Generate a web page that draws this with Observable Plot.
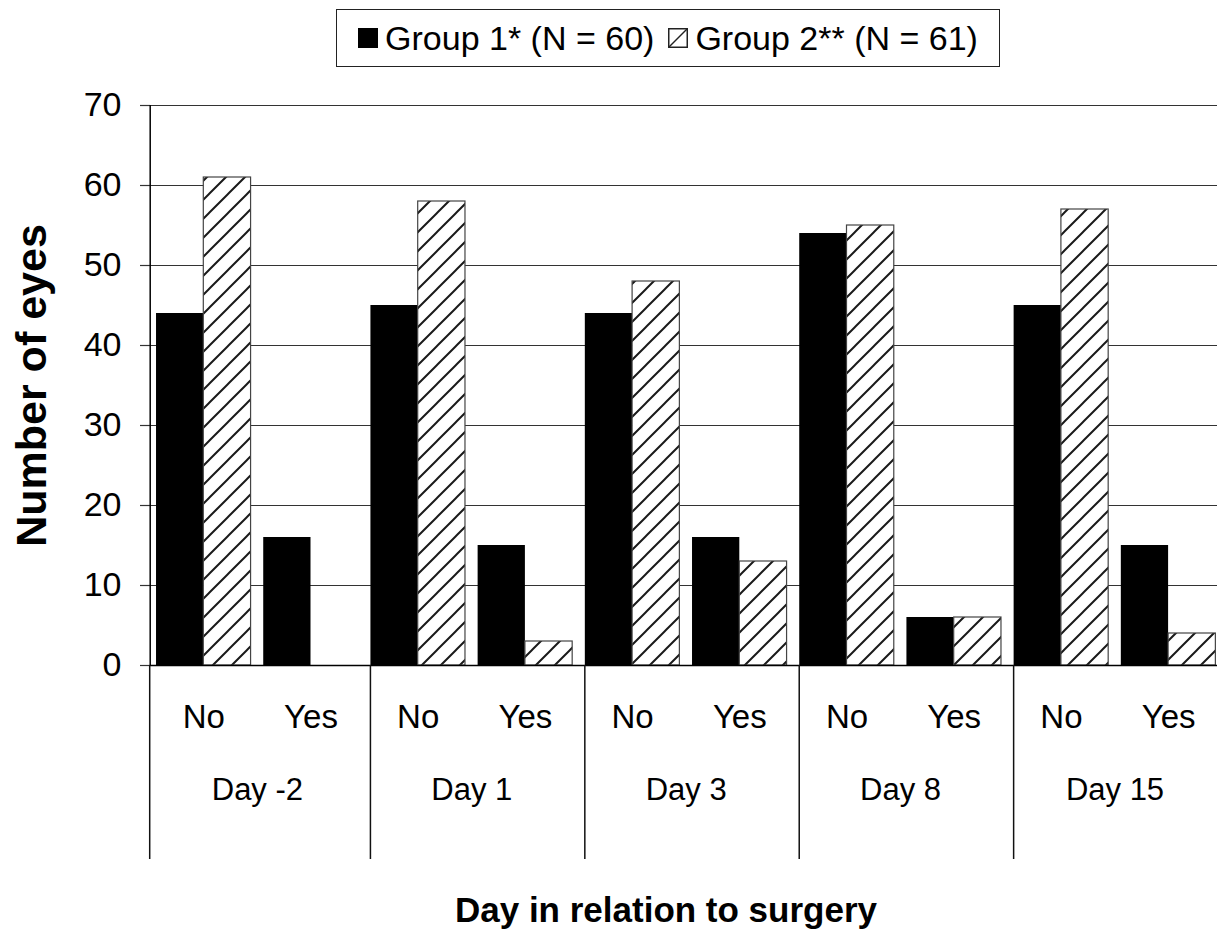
<!DOCTYPE html>
<html>
<head>
<meta charset="utf-8">
<script src="https://cdn.jsdelivr.net/npm/d3@7"></script>
<script src="https://cdn.jsdelivr.net/npm/@observablehq/plot@0.6"></script>
<style>
  html, body { margin: 0; padding: 0; overflow: hidden; background: #fff; }
  body { width: 1217px; height: 931px; font-family: "Liberation Sans", Arial, sans-serif; color: #000; }
  #legend { position: relative; width: 1217px; height: 80px; }
  #legend .box {
    position: absolute; left: 336px; top: 9px; width: 662px; height: 56px;
    border: 1px solid #222; display: flex; align-items: center; justify-content: center;
    font-size: 34px; line-height: 1; box-sizing: content-box;
  }
  #legend .item { display: flex; align-items: center; }
  #legend .item + .item { margin-left: 14px; }
  #legend .sw { width: 20px; height: 20px; margin-right: 7px; display: block; }
  #chart svg { display: block; }
</style>
</head>
<body>
<div id="legend"><div class="box"></div></div>
<div id="chart"></div>
<script>
// ---- data ----
const days = ["Day -2", "Day 1", "Day 3", "Day 8", "Day 15"];
const answers = ["No", "Yes"];
const groups = ["Group 1* (N = 60)", "Group 2** (N = 61)"];
const group1No  = [44, 45, 44, 54, 45];
const group1Yes = [16, 15, 16, 6, 15];
const group2No  = [61, 58, 48, 55, 57];
const group2Yes = [0, 3, 13, 6, 4];
const yTicks = [0, 10, 20, 30, 40, 50, 60, 70];

// ---- derived table ----
const series = [
  {No: group1No, Yes: group1Yes},
  {No: group2No, Yes: group2Yes}
];
const pad = 0.059;               // outer gap inside each No/Yes slot (slot units)
const half = (1 - 2 * pad) / 2;  // one bar's width (slot units)
const slots = [];
days.forEach((day, d) => answers.forEach((answer, a) => slots.push({day, answer, index: 2 * d + a, d, a})));
const rows = [];
slots.forEach(s => series.forEach((ser, g) => {
  const x1 = s.index + pad + g * half;
  rows.push({group: g, label: groups[g], day: s.day, answer: s.answer, value: ser[s.answer][s.d], x1, x2: x1 + half});
}));
const seps = days.map((d, i) => i === 0 ? 0 : 2 * i + pad);

// ---- legend (HTML, above the svg) ----
const box = document.querySelector("#legend .box");
groups.forEach((g, i) => {
  const item = document.createElement("div");
  item.className = "item";
  item.innerHTML = i === 0
    ? `<svg class="sw" viewBox="0 0 20 20"><rect x="0" y="0" width="20" height="20" fill="#000"/></svg><span>${g}</span>`
    : `<svg class="sw" viewBox="0 0 20 20"><rect x="0.75" y="0.75" width="18.5" height="18.5" fill="#fff" stroke="#222" stroke-width="1.5"/><line x1="1" y1="19" x2="19" y2="1" stroke="#222" stroke-width="1.5"/></svg><span>${g}</span>`;
  box.appendChild(item);
});

// ---- pattern defs ----
function defs() {
  const el = d3.create("svg:defs");
  const p = el.append("pattern").attr("id", "hatch").attr("patternUnits", "userSpaceOnUse")
    .attr("width", 19).attr("height", 19);
  p.append("rect").attr("width", 19).attr("height", 19).attr("fill", "#fff");
  p.append("path").attr("d", "M0,19L19,0M-3,3L3,-3M16,22L22,16")
    .attr("stroke", "#1a1a1a").attr("stroke-width", 2).attr("fill", "none");
  return el.node();
}

// ---- category separators below the axis ----
function separators(index, scales, values, dimensions) {
  const g = d3.create("svg:g").attr("stroke", "#111").attr("stroke-width", 1.5);
  const y0 = dimensions.height - dimensions.marginBottom;
  seps.forEach(u => {
    const x = scales.x(u);
    g.append("line").attr("x1", x).attr("x2", x).attr("y1", y0).attr("y2", y0 + 194);
  });
  return g.node();
}

const plot = Plot.plot({
  width: 1217,
  height: 851,
  marginTop: 25,
  marginBottom: 266,
  marginLeft: 150,
  marginRight: 36,
  x: {domain: [0, 10], range: [149.7, 1221.7], axis: null},
  y: {domain: [0, 70], axis: null},
  style: {fontFamily: "'Liberation Sans', Arial, sans-serif", color: "#000", background: "#fff"},
  marks: [
    defs,
    Plot.ruleY(yTicks.slice(1), {x1: 0, x2: 10, stroke: "#333", strokeWidth: 1.2}),
    Plot.axisY({ticks: yTicks, tickSize: 10, tickPadding: 19, fontSize: 34, label: null, stroke: "#333", strokeWidth: 1.2}),
    Plot.rect(rows.filter(r => r.group === 0), {x1: "x1", x2: "x2", y1: 0, y2: "value", fill: "#000"}),
    Plot.rect(rows.filter(r => r.group === 1), {x1: "x1", x2: "x2", y1: 0, y2: "value", fill: "url(#hatch)", stroke: "#444", strokeWidth: 1.2}),
    Plot.ruleX([0], {y1: 0, y2: 70, stroke: "#000", strokeWidth: 1.5}),
    Plot.ruleY([0], {x1: 0, x2: 10, stroke: "#000", strokeWidth: 1.5}),
    separators,
    Plot.text(slots, {x: d => d.index + 0.5, text: "answer", frameAnchor: "bottom", dy: 62, lineAnchor: "bottom", fontSize: 33, fill: "#000"}),
    Plot.text(days, {x: (d, i) => 2 * i + 1, text: d => d, frameAnchor: "bottom", dy: 134, lineAnchor: "bottom", fontSize: 31, fill: "#000"}),
    Plot.text(["Number of eyes"], {frameAnchor: "left", rotate: -90, dx: -105, textAnchor: "middle", lineAnchor: "bottom", fontSize: 43, fontWeight: "bold", fill: "#000"}),
    Plot.text(["Day in relation to surgery"], {frameAnchor: "bottom", dy: 256, textAnchor: "middle", lineAnchor: "bottom", fontSize: 35, fontWeight: "bold", fill: "#000"})
  ]
});
document.getElementById("chart").appendChild(plot);
</script>
</body>
</html>
